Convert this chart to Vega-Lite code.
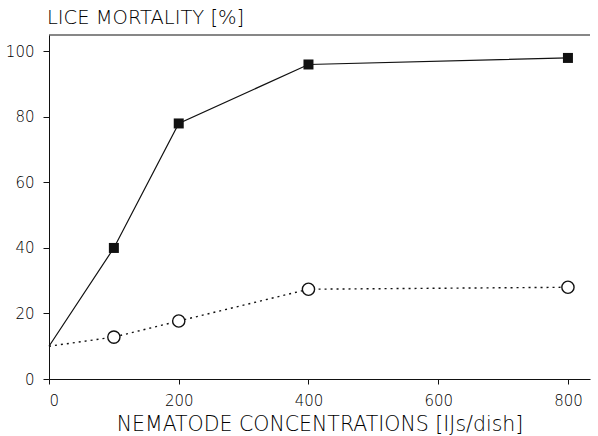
{
  "$schema": "https://vega.github.io/schema/vega-lite/v6.json",
  "width": 541,
  "height": 344,
  "autosize": {"type": "none"},
  "padding": {"left": 49, "top": 35, "right": 8, "bottom": 57},
  "background": "white",
  "config": {
    "font": "DejaVu Sans",
    "view": {"stroke": null},
    "axis": {"grid": false, "domainColor": "#111", "tickColor": "#111", "labelColor": "#000", "labelFontSize": 15, "labelFontWeight": 200, "labelFont": "DejaVu Sans", "titleFont": "DejaVu Sans", "titleColor": "#000", "titleFontWeight": 200}
  },
  "title": {"text": "LICE MORTALITY [%]", "anchor": "start", "frame": "group", "fontSize": 19.5, "fontWeight": 200, "color": "#000", "offset": 6, "font": "DejaVu Sans", "dx": -2},
  "data": {"values": [
    {"conc": 0, "mortality": 10, "series": "A"},
    {"conc": 100, "mortality": 40, "series": "A"},
    {"conc": 200, "mortality": 78, "series": "A"},
    {"conc": 400, "mortality": 96, "series": "A"},
    {"conc": 800, "mortality": 98, "series": "A"},
    {"conc": 0, "mortality": 10, "series": "B"},
    {"conc": 100, "mortality": 12.8, "series": "B"},
    {"conc": 200, "mortality": 17.7, "series": "B"},
    {"conc": 400, "mortality": 27.4, "series": "B"},
    {"conc": 800, "mortality": 28, "series": "B"}
  ]},
  "encoding": {
    "x": {"field": "conc", "type": "quantitative", "scale": {"domain": [0, 834], "nice": false},
      "axis": {"values": [0, 200, 400, 600, 800], "tickSize": 5, "labelPadding": 9, "title": "NEMATODE CONCENTRATIONS [IJs/dish]", "titleFontSize": 20.5, "titlePadding": 6}},
    "y": {"field": "mortality", "type": "quantitative", "scale": {"domain": [0, 105], "nice": false},
      "axis": {"values": [0, 20, 40, 60, 80, 100], "tickSize": 6, "labelPadding": 9, "title": null}}
  },
  "layer": [
    {"transform": [{"filter": "datum.series == 'A'"}], "mark": {"type": "line", "color": "#111", "strokeWidth": 1.2}},
    {"transform": [{"filter": "datum.series == 'B'"}], "mark": {"type": "line", "color": "#111", "strokeWidth": 1.4, "strokeDash": [2, 4]}},
    {"transform": [{"filter": "datum.series == 'A' && datum.conc > 0"}], "mark": {"type": "point", "shape": "square", "filled": true, "color": "#111", "size": 100, "opacity": 1}},
    {"transform": [{"filter": "datum.series == 'B' && datum.conc > 0"}], "mark": {"type": "point", "shape": "circle", "filled": true, "fill": "white", "stroke": "#111", "strokeWidth": 1.4, "size": 150, "opacity": 1}},
    {"data": {"values": [{"top": 105}]}, "mark": {"type": "rule", "color": "#111", "strokeWidth": 1.2}, "encoding": {"y": {"field": "top", "type": "quantitative"}, "x": null}}
  ]
}
